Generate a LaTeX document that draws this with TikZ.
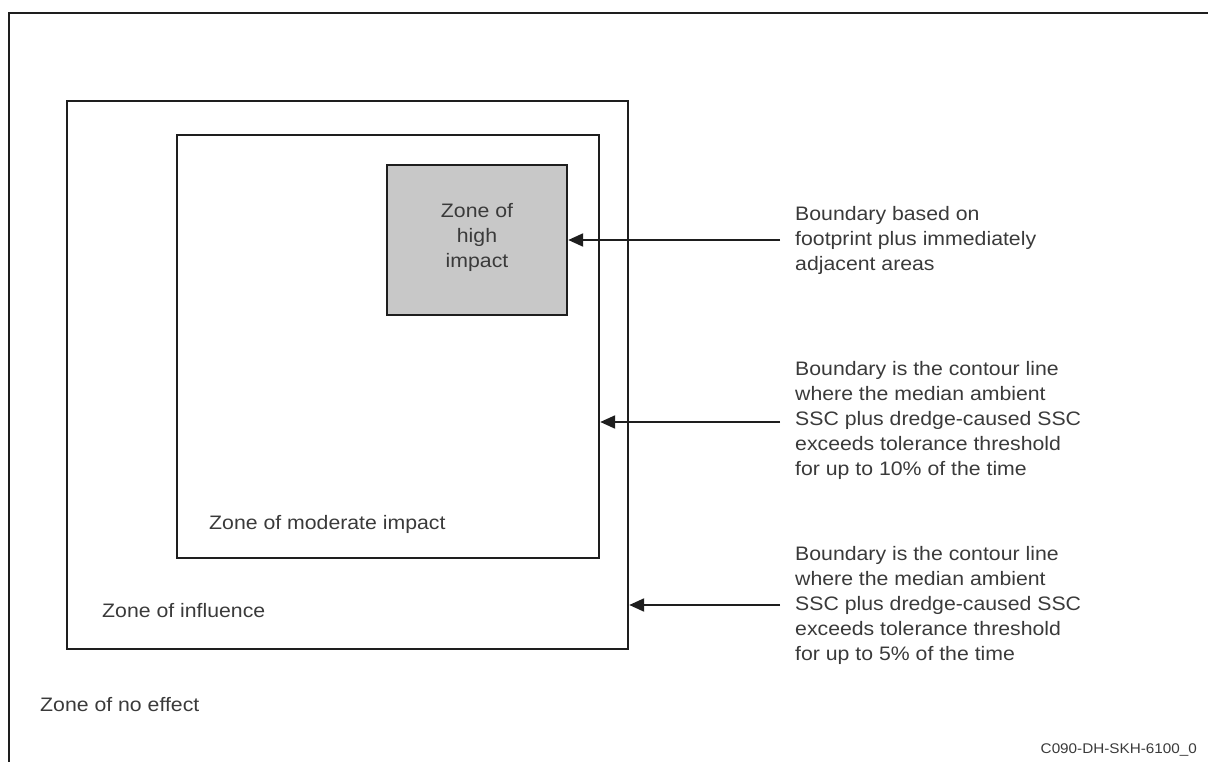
\documentclass[tikz,border=0pt]{standalone}
\usepackage{fontspec}
\setmainfont{Liberation Sans}[FakeStretch=1.09]
\usetikzlibrary{arrows.meta}
\definecolor{linec}{HTML}{1E1E1E}
\definecolor{textc}{HTML}{3A3A3A}
\definecolor{grayfill}{HTML}{C8C8C8}
\newcommand{\blockL}[1]{\vtop{\baselineskip=25pt\halign{##\hfil\cr#1\crcr}}}
\newcommand{\blockC}[1]{\vtop{\baselineskip=25pt\halign{\hfil##\hfil\cr#1\crcr}}}
\begin{document}
\begin{tikzpicture}[x=1pt,y=-1pt,
  zonebox/.style={draw=linec, line width=2.4pt, inner sep=0pt},
  lbl/.style={text=textc, font=\fontsize{19.5}{25}\selectfont, inner sep=0pt, anchor=base west},
  arr/.style={draw=linec, line width=2.2pt, -{Triangle[length=15pt,width=13pt]}}]
\useasboundingbox (0,0) rectangle (1208,762);
% outer frame (top and left only)
\draw[linec, line width=2.4pt] (9,770) -- (9,13) -- (1215,13);
% zones
\node[zonebox, minimum width=561pt, minimum height=548pt] (infl) at (347.5,375) {};
\node[zonebox, minimum width=422pt, minimum height=423pt] (mod) at (388,346.5) {};
\node[zonebox, fill=grayfill, minimum width=180pt, minimum height=150pt] (high) at (477,240) {};
% labels in zones
\node[lbl, anchor=base] (thigh) at (477,218) {\blockC{Zone of\cr high\cr impact}};
\node[lbl] (tmod) at (209,529) {Zone of moderate impact};
\node[lbl] (tinfl) at (102,617) {Zone of influence};
\node[lbl] (tnone) at (40,711) {Zone of no effect};
% explanations
\node[lbl] (t1) at (795,221) {\blockL{Boundary based on\cr footprint plus immediately\cr adjacent areas}};
\node[lbl] (t2) at (795,375) {\blockL{Boundary is the contour line\cr where the median ambient\cr SSC plus dredge-caused SSC\cr exceeds tolerance threshold\cr for up to 10\% of the time}};
\node[lbl] (t3) at (795,560) {\blockL{Boundary is the contour line\cr where the median ambient\cr SSC plus dredge-caused SSC\cr exceeds tolerance threshold\cr for up to 5\% of the time}};
% arrows
\coordinate (a1) at (780,240);
\coordinate (a2) at (780,422);
\coordinate (a3) at (780,605);
\draw[arr] (a1) -- (a1 -| high.east);
\draw[arr] (a2) -- (a2 -| mod.east);
\draw[arr] (a3) -- (a3 -| infl.east);
% code
\node[lbl, anchor=base east, font=\fontsize{14}{16}\selectfont] (code) at (1197,753) {C090-DH-SKH-6100\_0};
\end{tikzpicture}
\end{document}
